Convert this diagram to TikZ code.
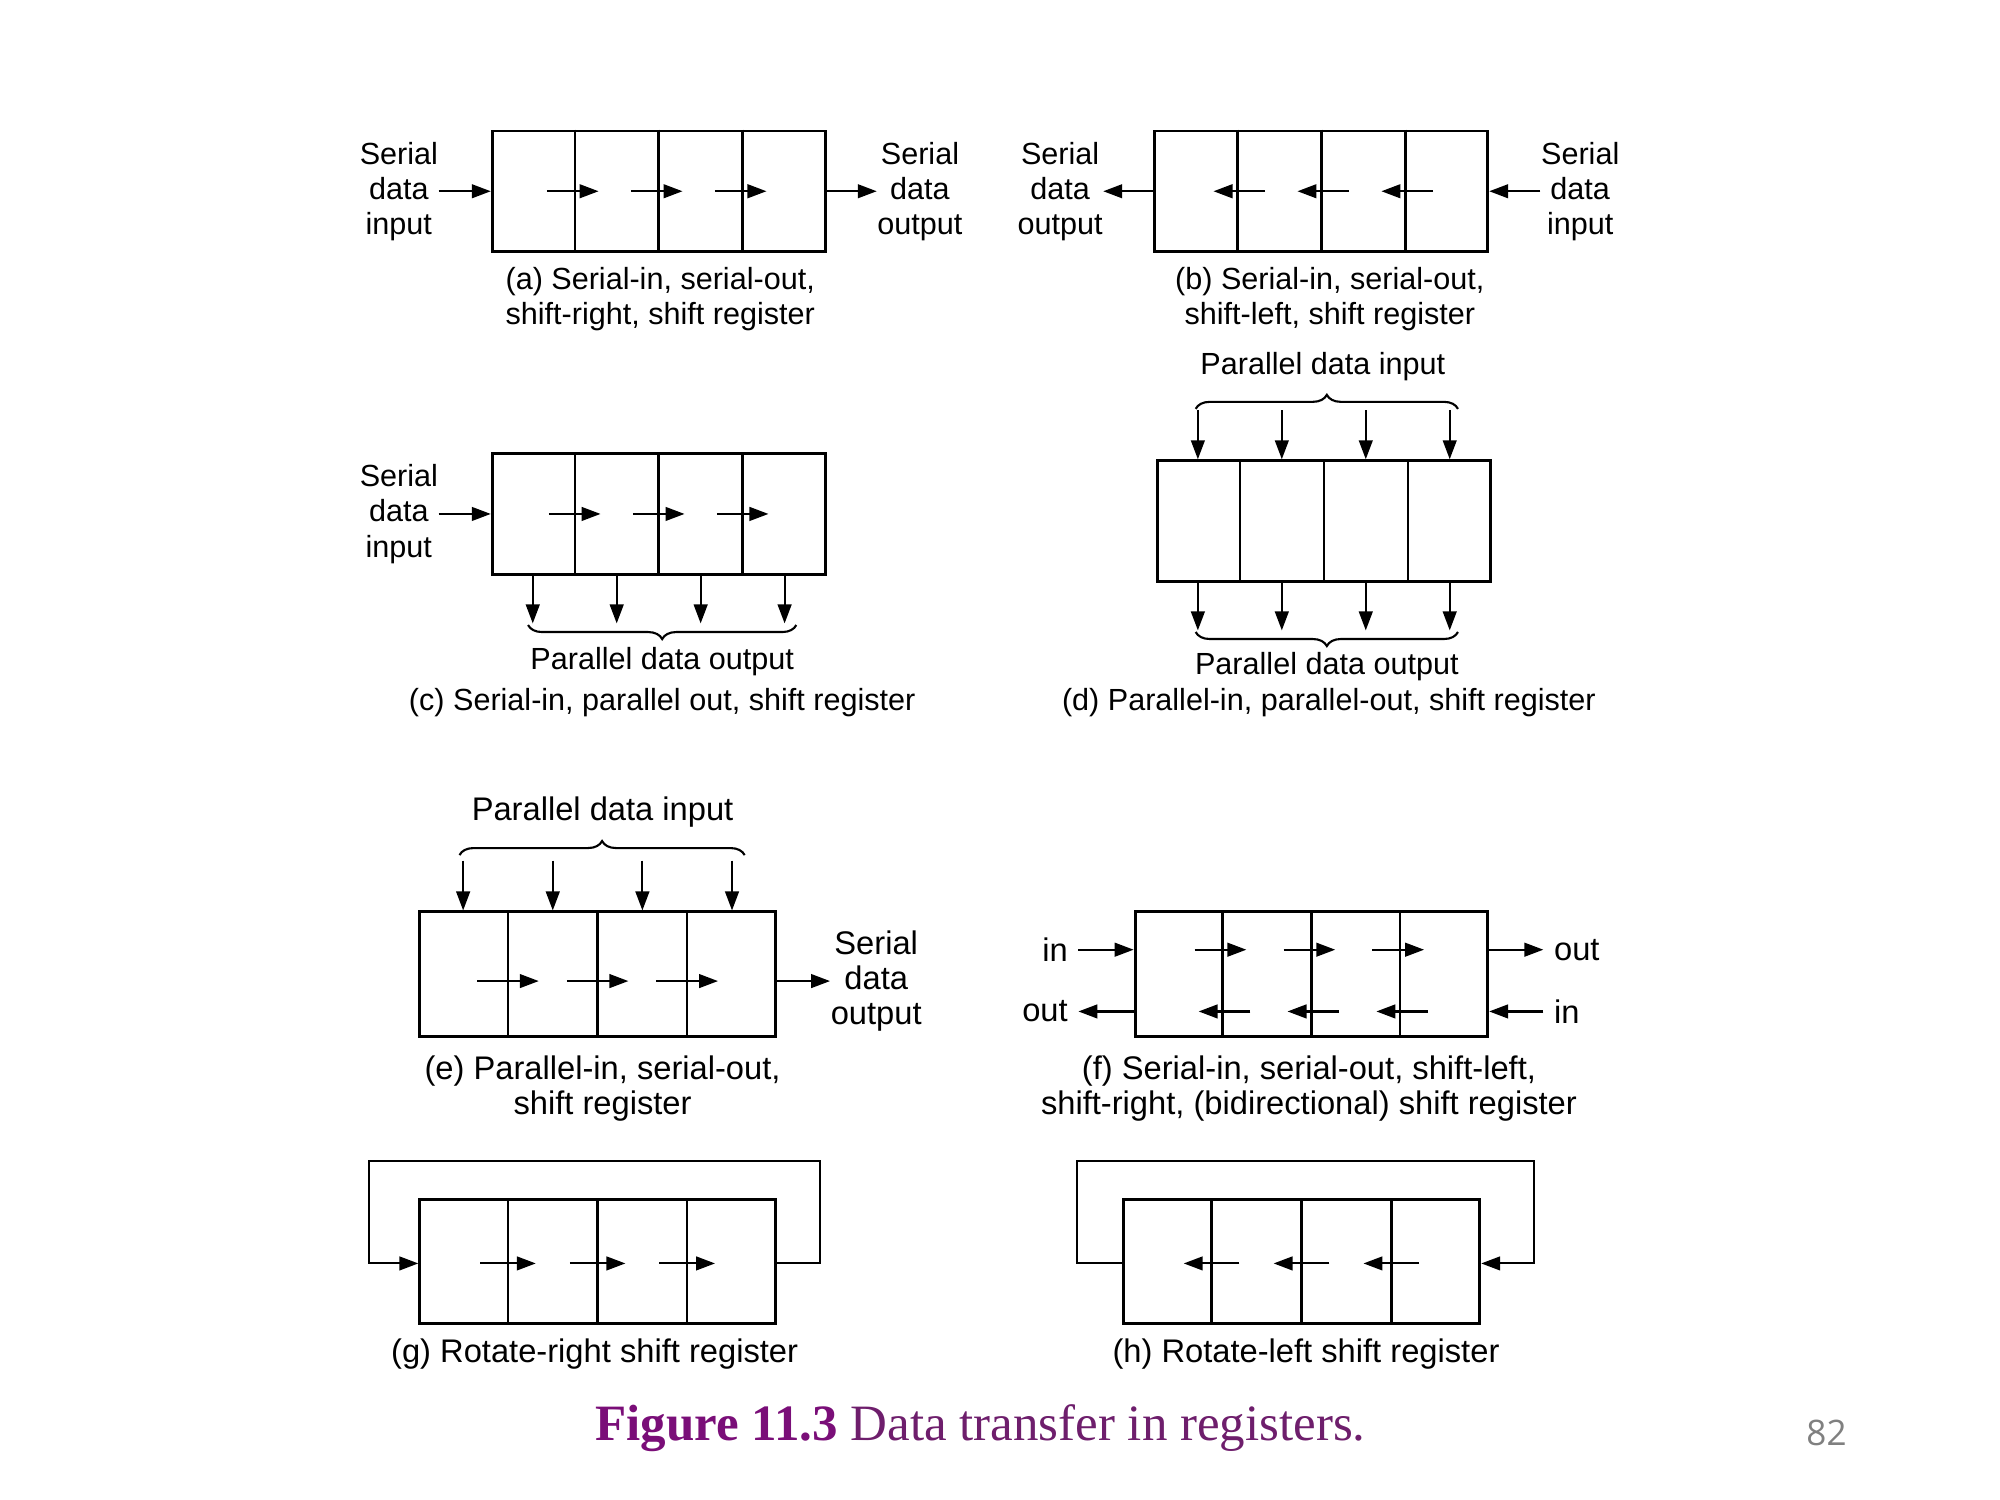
\documentclass[tikz,border=0pt]{standalone}
\usepackage{fontspec}
\setmainfont{Liberation Sans}
\newfontfamily\figfont{Liberation Serif}
\newfontfamily\pagefont{Open Sans}
\usetikzlibrary{arrows.meta,calc,decorations.pathreplacing}
\definecolor{figpurple}{RGB}{122,14,120}
\definecolor{figtext}{RGB}{110,30,108}
\tikzset{
  reg/.style={draw, line width=0.8pt, minimum width=33.3mm, minimum height=12.05mm, inner sep=0pt},
  regwide/.style={reg, minimum width=35.57mm, minimum height=12.45mm},
  arr/.style={line width=0.6pt, -{Triangle[length=5.4pt,width=3.9pt]}},
  lbl/.style={align=center, inner sep=0pt, font=\fontsize{8.7}{10}\selectfont},
  lblbig/.style={lbl, font=\fontsize{9.3}{10}\selectfont},
  curly/.style={decorate, decoration={brace, amplitude=4pt}, line width=0.6pt},
  cell/.style={line width=0.7pt}
}
\begin{document}
\begin{tikzpicture}[x=0.1mm, y=-0.1mm]

\path[fill=white, use as bounding box] (0,0) rectangle (2000,1500);

\begin{scope}[shift={(385,131)}, xscale=0.9935, yscale=0.996, shift={(-385,-131)}]

%(a) serial-in, serial-out, shift-right
\node[reg] (ra) at (660.5,191.5) {};
\foreach \f in {0.25,0.5,0.75} {
  \draw[cell] ($(ra.north west)!\f!(ra.north east)$) -- ($(ra.south west)!\f!(ra.south east)$);
  \draw[arr] ($(ra.west)!\f!(ra.east)+(-28,0)$) -- ++(52,0);
}
\node[lbl, anchor=east] (ina) at (439,191.5) {Serial\\data\\input};
\node[lbl, anchor=west] (outa) at (880,191.5) {Serial\\data\\output};
\draw[arr] (ina.east) -- (ra.west);
\draw[arr] (ra.east) -- (outa.west);
\node[lbl] (capa) at (662,300) {(a) Serial-in, serial-out,\\shift-right, shift register};

%(b) serial-in, serial-out, shift-left
\node[reg] (rb) at (1327.5,191.5) {};
\foreach \f in {0.25,0.5,0.75} {
  \draw[cell] ($(rb.north west)!\f!(rb.north east)$) -- ($(rb.south west)!\f!(rb.south east)$);
  \draw[arr] ($(rb.west)!\f!(rb.east)+(28,0)$) -- ++(-52,0);
}
\node[lbl, anchor=east] (outb) at (1108,191.5) {Serial\\data\\output};
\node[lbl, anchor=west] (inb) at (1548,191.5) {Serial\\data\\input};
\draw[arr] (rb.west) -- (outb.east);
\draw[arr] (inb.west) -- (rb.east);
\node[lbl] (capb) at (1336,300) {(b) Serial-in, serial-out,\\shift-left, shift register};

%(c) serial-in, parallel-out
\node[reg] (rc) at (660.5,515.5) {};
\foreach \f in {0.25,0.5,0.75} {
  \draw[cell] ($(rc.north west)!\f!(rc.north east)$) -- ($(rc.south west)!\f!(rc.south east)$);
  \draw[arr] ($(rc.west)!\f!(rc.east)+(-26,0)$) -- ++(52,0);
}
\foreach \f in {0.125,0.375,0.625,0.875}
  \draw[arr] ($(rc.south west)!\f!(rc.south east)$) -- ++(0,48);
\node[lbl, anchor=east] (inc) at (439,515.5) {Serial\\data\\input};
\draw[arr] (inc.east) -- (rc.west);
\draw[curly] (799,627) -- (529,627);
\node[lbl] (poc) at (664,664) {Parallel data output};
\node[lbl] (capc) at (664,705) {(c) Serial-in, parallel out, shift register};

%(d) parallel-in, parallel-out
\node[reg] (rd) at (1330,522.5) {};
\foreach \f in {0.25,0.5,0.75}
  \draw[cell] ($(rd.north west)!\f!(rd.north east)$) -- ($(rd.south west)!\f!(rd.south east)$);
\foreach \f in {0.125,0.375,0.625,0.875} {
  \draw[arr] ($(rd.north west)!\f!(rd.north east)+(0,-49)$) -- ++(0,49);
  \draw[arr] ($(rd.south west)!\f!(rd.south east)$) -- ++(0,48);
}
\node[lbl] (pid) at (1329,368) {Parallel data input};
\draw[curly] (1201,410) -- (1465,410);
\draw[curly] (1465,634) -- (1201,634);
\node[lbl] (pod) at (1333,669) {Parallel data output};
\node[lbl] (capd) at (1335,705) {(d) Parallel-in, parallel-out, shift register};

%(e) parallel-in, serial-out
\node[regwide] (re) at (599,977.5) {};
\foreach \f in {0.25,0.5,0.75} {
  \draw[cell] ($(re.north west)!\f!(re.north east)$) -- ($(re.south west)!\f!(re.south east)$);
  \draw[arr] ($(re.west)!\f!(re.east)+(-31,7)$) -- ++(62,0);
}
\foreach \f in {0.125,0.375,0.625,0.875}
  \draw[arr] ($(re.north west)!\f!(re.north east)+(0,-50)$) -- ++(0,50);
\node[lblbig] (pie) at (604,815) {Parallel data input};
\draw[curly] (460,858) -- (747,858);
\node[lblbig, anchor=west] (oute) at (833,984.5) {Serial\\data\\output};
\draw[arr] (re.east |- oute.west) -- (oute.west);
\node[lblbig] (cape) at (604,1092) {(e) Parallel-in, serial-out,\\shift register};

%(f) bidirectional
\node[regwide, minimum width=35.27mm] (rf) at (1317.5,977.5) {};
\foreach \f in {0.25,0.5,0.75} {
  \draw[cell] ($(rf.north west)!\f!(rf.north east)$) -- ($(rf.south west)!\f!(rf.south east)$);
  \draw[arr] ($(rf.west)!\f!(rf.east)+(-28,-24.5)$) -- ++(52,0);
  \draw[arr] ($(rf.west)!\f!(rf.east)+(28,37.5)$) -- ++(-52,0);
}
\node[lblbig, inner xsep=1mm, anchor=east] (inf1) at (1083,953) {in};
\node[lblbig, inner xsep=1mm, anchor=east] (outf1) at (1083,1015) {out};
\node[lblbig, inner xsep=1mm, anchor=west] (outf2) at (1551,953) {out};
\node[lblbig, inner xsep=1mm, anchor=west] (inf2) at (1551,1015) {in};
\draw[arr] (inf1.east) -- (inf1.east -| rf.west);
\draw[arr] (outf1.east -| rf.west) -- (outf1.east);
\draw[arr] (outf2.west -| rf.east) -- (outf2.west);
\draw[arr] (inf2.west) -- (inf2.west -| rf.east);
\node[lblbig] (capf) at (1315,1092) {(f) Serial-in, serial-out, shift-left,\\shift-right, (bidirectional) shift register};

%(g) rotate-right
\node[regwide, minimum height=12.35mm] (rg) at (599,1266) {};
\foreach \f in {0.25,0.5,0.75} {
  \draw[cell] ($(rg.north west)!\f!(rg.north east)$) -- ($(rg.south west)!\f!(rg.south east)$);
  \draw[arr] ($(rg.west)!\f!(rg.east)+(-28,2)$) -- ++(56,0);
}
\coordinate (gr) at (823,1165);
\coordinate (gl) at (369,1165);
\draw[arr] ([yshift=-0.2mm]rg.east) -| (gr) -- (gl) |- ([yshift=-0.2mm]rg.west);
\node[lblbig] (capg) at (596,1359) {(g) Rotate-right shift register};

%(h) rotate-left
\node[regwide, minimum width=35.67mm, minimum height=12.35mm] (rh) at (1307.5,1266) {};
\foreach \f in {0.25,0.5,0.75} {
  \draw[cell] ($(rh.north west)!\f!(rh.north east)$) -- ($(rh.south west)!\f!(rh.south east)$);
  \draw[arr] ($(rh.west)!\f!(rh.east)+(28,2)$) -- ++(-56,0);
}
\coordinate (hl) at (1082,1165);
\coordinate (hr) at (1542,1165);
\draw[arr] ([yshift=-0.2mm]rh.west) -| (hl) -- (hr) |- ([yshift=-0.2mm]rh.east);
\node[lblbig] (caph) at (1312,1359) {(h) Rotate-left shift register};

%figure caption, page number
\node[anchor=west, inner sep=0pt, text=figtext, font=\figfont\fontsize{14.5}{16}\selectfont] (fig) at (596,1433) {\textcolor{figpurple}{\textbf{Figure 11.3}} Data transfer in registers.};
\node[text=gray, font=\pagefont\fontsize{10}{12}\selectfont] (page) at (1836,1438) {82};

\end{scope}

\end{tikzpicture}
\end{document}
